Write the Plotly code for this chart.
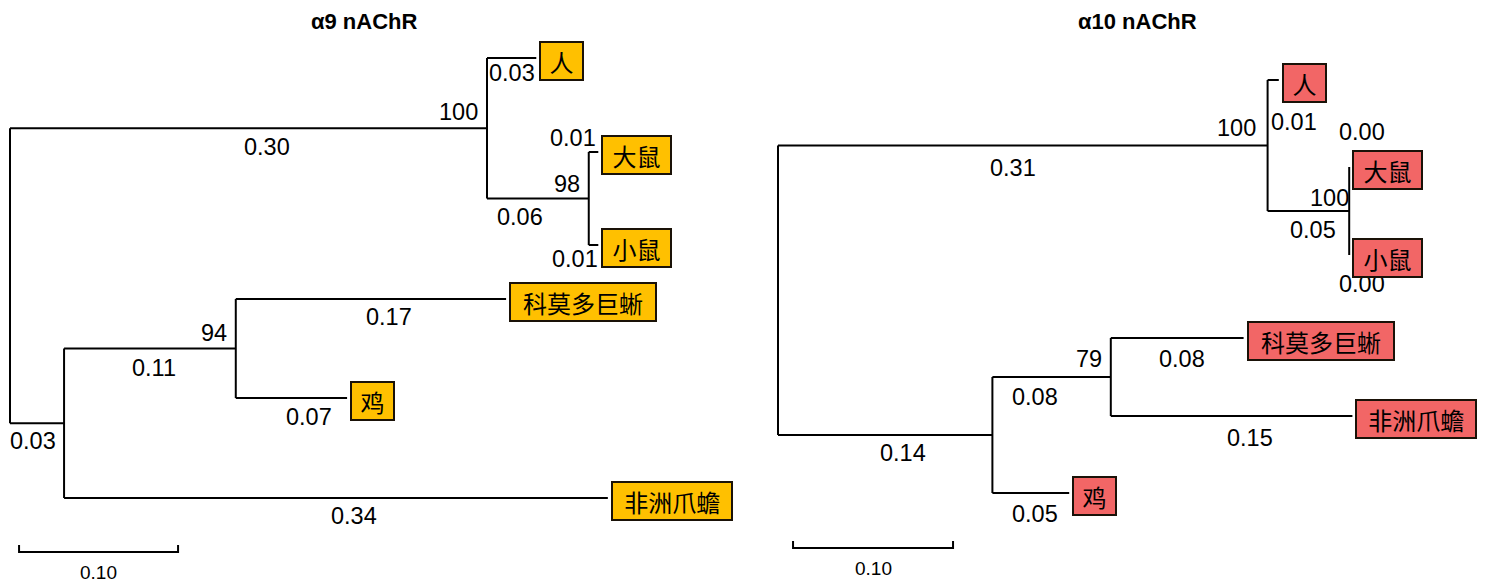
import plotly.graph_objects as go

# ---- α9 nAChR tree ----
a9_nodes = ["root", "M", "人", "R", "大鼠", "小鼠", "L", "P", "科莫多巨蜥", "鸡", "非洲爪蟾"]
a9_parent = [None, "root", "M", "M", "R", "R", "root", "L", "P", "P", "L"]
a9_length = [0, 0.300, 0.031, 0.064, 0.006, 0.006, 0.034, 0.108, 0.170, 0.070, 0.342]
a9_len_text = ["", "0.30", "0.03", "0.06", "0.01", "0.01", "0.03", "0.11", "0.17", "0.07", "0.34"]
a9_boot_nodes = ["M", "R", "P"]
a9_boot_vals = [100, 98, 94]
a9_leaves = ["人", "大鼠", "小鼠", "科莫多巨蜥", "鸡", "非洲爪蟾"]
a9_leaf_rows = [58, 152, 245, 299, 398, 498]

# ---- α10 nAChR tree ----
a10_nodes = ["root", "M", "人", "R", "大鼠", "小鼠", "L", "U", "科莫多巨蜥", "非洲爪蟾", "鸡"]
a10_parent = [None, "root", "M", "M", "R", "R", "root", "L", "U", "U", "L"]
a10_length = [0, 0.306, 0.007, 0.051, 0.0, 0.0, 0.134, 0.074, 0.083, 0.151, 0.048]
a10_len_text = ["", "0.31", "0.01", "0.05", "0.00", "0.00", "0.14", "0.08", "0.08", "0.15", "0.05"]
a10_boot_nodes = ["M", "R", "U"]
a10_boot_vals = [100, 100, 79]
a10_leaves = ["人", "大鼠", "小鼠", "科莫多巨蜥", "非洲爪蟾", "鸡"]
a10_leaf_rows = [80, 167, 255, 338, 416, 493]

scale_len = 0.10

# label nudges in pixels (dx right, dy down), layout only
a9_len_shift = {"M": (18, 19), "人": (0, 15), "R": (-18, 18), "大鼠": (-21, -14),
                "小鼠": (-19, 14), "L": (-4, 18), "P": (4, 19), "科莫多巨蜥": (18, 18),
                "鸡": (18, 19), "非洲爪蟾": (18, 18)}
a9_boot_shift = {"M": (-29, -16), "R": (-22, -15), "P": (-22, -16)}
a10_len_shift = {"M": (-10, 22), "人": (21, 42), "R": (5, 19), "大鼠": (13, -35),
                 "小鼠": (13, 29), "L": (18, 18), "U": (-17, 20), "科莫多巨蜥": (5, 21),
                 "非洲爪蟾": (18, 22), "鸡": (4, 21)}
a10_boot_shift = {"M": (-31, -18), "R": (-20, -13), "U": (-22, -18)}

NUM_FONT = dict(family="Liberation Sans, Arial", size=23.5, color="black")
CJK_FONT = dict(family="Noto Sans CJK SC", size=24, color="black")


def layout_tree(nodes, parent, length, leaves, rows):
    xs, ys = {}, {}
    for n, p, l in zip(nodes, parent, length):
        xs[n] = 0.0 if p is None else xs[p] + l
    for n, r in zip(leaves, rows):
        ys[n] = r
    kids = {n: [c for c, p in zip(nodes, parent) if p == n] for n in nodes}

    def get_y(n):
        if n not in ys:
            ys[n] = sum(get_y(c) for c in kids[n]) / len(kids[n])
        return ys[n]

    get_y("root")
    return xs, ys, kids


fig = go.Figure()
annotations = []


def draw_tree(nodes, parent, length, len_text, boot_nodes, boot_vals, leaves, rows,
              len_shift, boot_shift, xa, box_color, bar_x0, bar_y):
    xs, ys, kids = layout_tree(nodes, parent, length, leaves, rows)
    lx, ly = [], []
    for n in nodes:
        if kids[n]:
            cy = [ys[c] for c in kids[n]]
            lx += [xs[n], xs[n], None]
            ly += [min(cy), max(cy), None]
        p = parent[nodes.index(n)]
        if p is not None:
            lx += [xs[p], xs[n], None]
            ly += [ys[n], ys[n], None]
    # scale bar
    lx += [bar_x0, bar_x0, bar_x0 + scale_len, bar_x0 + scale_len]
    ly += [bar_y - 7, bar_y, bar_y, bar_y - 7]
    fig.add_trace(go.Scatter(x=lx, y=ly, mode="lines", xaxis=xa, yaxis="y",
                             line=dict(color="black", width=2), hoverinfo="skip",
                             showlegend=False))
    xref = "x" if xa == "x" else "x2"
    annotations.append(dict(x=bar_x0 + scale_len / 2, y=bar_y, xref=xref, yref="y",
                            text="0.10", showarrow=False, yanchor="top", yshift=-8,
                            font=dict(family="Liberation Sans, Arial", size=19,
                                      color="black")))
    for n, t in zip(nodes, len_text):
        p = parent[nodes.index(n)]
        if p is None:
            continue
        dx, dy = len_shift[n]
        annotations.append(dict(x=(xs[p] + xs[n]) / 2, y=ys[n], xref=xref, yref="y",
                                text=t, showarrow=False, font=NUM_FONT,
                                xshift=dx, yshift=-dy))
    for n, v in zip(boot_nodes, boot_vals):
        dx, dy = boot_shift[n]
        annotations.append(dict(x=xs[n], y=ys[n], xref=xref, yref="y",
                                text=str(v), showarrow=False, font=NUM_FONT,
                                xshift=dx, yshift=-dy))
    for n in leaves:
        annotations.append(dict(x=xs[n], y=ys[n], xref=xref, yref="y", text=n,
                                showarrow=False, xanchor="left", xshift=3, yshift=-3,
                                font=CJK_FONT, bgcolor=box_color, bordercolor="#1a1208",
                                borderwidth=2, borderpad=0,
                                width=15.5 + 25.7 * len(n), height=36))


draw_tree(a9_nodes, a9_parent, a9_length, a9_len_text, a9_boot_nodes, a9_boot_vals,
          a9_leaves, a9_leaf_rows, a9_len_shift, a9_boot_shift, "x", "#FFC000",
          0.0057, 552)
draw_tree(a10_nodes, a10_parent, a10_length, a10_len_text, a10_boot_nodes, a10_boot_vals,
          a10_leaves, a10_leaf_rows, a10_len_shift, a10_boot_shift, "x2", "#F26666",
          0.0094, 548)

title_font = dict(family="Liberation Sans, Arial", size=22, color="black")
annotations.append(dict(x=364 / 1489, y=21, xref="paper", yref="y", text="<b>α9 nAChR</b>",
                        showarrow=False, xanchor="center", font=title_font))
annotations.append(dict(x=1137 / 1489, y=21, xref="paper", yref="y", text="<b>α10 nAChR</b>",
                        showarrow=False, xanchor="center", font=title_font))

fig.update_layout(
    width=1489, height=588,
    margin=dict(l=0, r=0, t=0, b=0),
    paper_bgcolor="white", plot_bgcolor="white",
    xaxis=dict(domain=[0, 0.5], range=[-10 / 1590, 734.5 / 1590], visible=False),
    xaxis2=dict(domain=[0.5, 1], range=[-33.5 / 1600, 711 / 1600], visible=False),
    yaxis=dict(range=[588, 0], visible=False),
    annotations=annotations,
)

fig.write_html("out.html", config={"displayModeBar": False},
               post_script="document.body.style.margin='0';")
